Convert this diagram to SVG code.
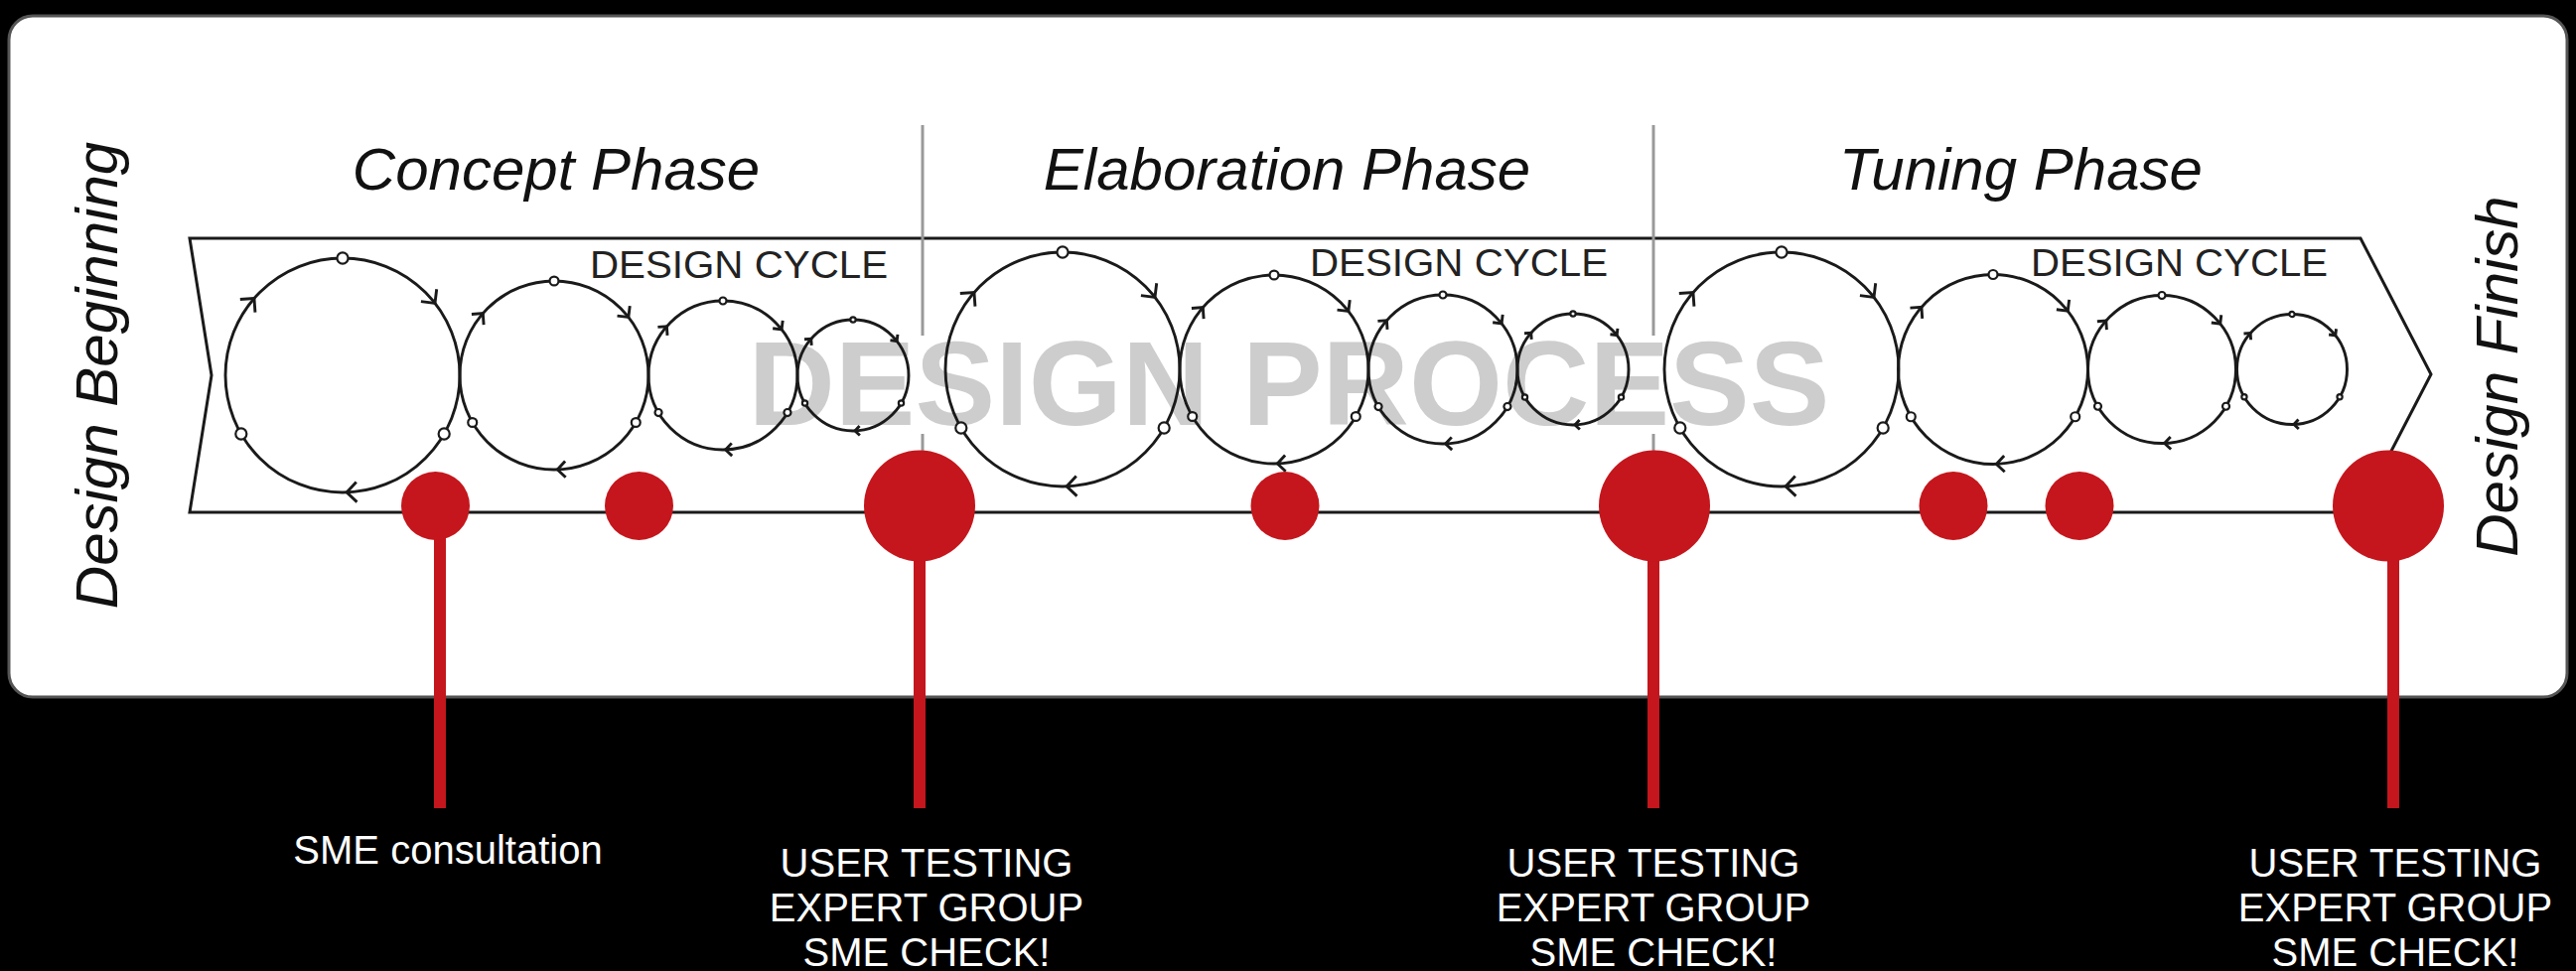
<svg xmlns="http://www.w3.org/2000/svg" xmlns:xlink="http://www.w3.org/1999/xlink" width="2594" height="978" viewBox="0 0 2594 978">
<style>
.ring{fill:none;stroke:#1a1a1a;stroke-width:2.9}
.nd{fill:#fff;stroke:#1a1a1a;stroke-width:2.2}
.chev{fill:none;stroke:#1a1a1a;stroke-width:2.9;stroke-linejoin:miter}
.ns{vector-effect:non-scaling-stroke}
.title{font-family:"Liberation Sans",Arial,sans-serif;font-style:italic;font-size:60px;fill:#111}
.cyc{font-family:"Liberation Sans",Arial,sans-serif;font-size:39px;fill:#222}
.lbl{font-family:"Liberation Sans",Arial,sans-serif;font-size:40px;fill:#fff;text-anchor:middle}
.red{fill:#c4161c}
.stem{stroke:#c4161c;stroke-width:12}
.sep{stroke:#999;stroke-width:3}
</style>
<defs>
<g id="cycle">
<circle class="ring ns" r="100"/>
<path class="chev ns" d="M80.26,-73.49 L78.8,-61.57 L66.88,-63.03"/>
<path class="chev ns" d="M12.27,108.13 L3.49,99.94 L11.68,91.16"/>
<path class="chev ns" d="M-87.45,-64.77 L-75.47,-65.61 L-74.63,-53.63"/>
<circle class="nd ns" cx="0" cy="-100" r="4.7"/>
<circle class="nd ns" cx="86.6" cy="50" r="4.7"/>
<circle class="nd ns" cx="-86.6" cy="50" r="4.7"/>
</g>
</defs>
<rect width="2594" height="978" fill="#000"/>
<rect id="panel" x="9" y="16" width="2576" height="686" rx="24" fill="#fff" stroke="#555" stroke-width="3"/>

<g id="banner">
<polygon points="191,240 2377,240 2448,377 2376,516 191,516 213,378" fill="#fff" stroke="#1a1a1a" stroke-width="3"/>
</g>
<g id="separators">
<line class="sep" x1="929" y1="126" x2="929" y2="338"/>
<line class="sep" x1="929" y1="437" x2="929" y2="500"/>
<line class="sep" x1="1665" y1="126" x2="1665" y2="338"/>
<line class="sep" x1="1665" y1="437" x2="1665" y2="500"/>
</g>
<text id="watermark" x="1298" y="428" text-anchor="middle" textLength="1089" lengthAdjust="spacingAndGlyphs" font-family="'Liberation Sans',Arial,sans-serif" font-weight="bold" font-size="120" fill="#cdcdcd">DESIGN PROCESS</text>

<g id="phase-concept">
<text class="title" x="560" y="191" text-anchor="middle">Concept Phase</text>
<text class="cyc" x="594" y="280" textLength="300" lengthAdjust="spacingAndGlyphs">DESIGN CYCLE</text>
<use xlink:href="#cycle" transform="translate(345,378) scale(1.18)"/>
<use xlink:href="#cycle" transform="translate(558,378) scale(0.95)"/>
<use xlink:href="#cycle" transform="translate(728,378) scale(0.75)"/>
<use xlink:href="#cycle" transform="translate(859,378) scale(0.56)"/>
</g>
<g id="phase-elaboration">
<text class="title" x="1296" y="191" text-anchor="middle">Elaboration Phase</text>
<text class="cyc" x="1319" y="278" textLength="300" lengthAdjust="spacingAndGlyphs">DESIGN CYCLE</text>
<use xlink:href="#cycle" transform="translate(1070,372) scale(1.18)"/>
<use xlink:href="#cycle" transform="translate(1283,372) scale(0.95)"/>
<use xlink:href="#cycle" transform="translate(1453,372) scale(0.75)"/>
<use xlink:href="#cycle" transform="translate(1584,372) scale(0.56)"/>
</g>
<g id="phase-tuning">
<text class="title" x="2035" y="191" text-anchor="middle">Tuning Phase</text>
<text class="cyc" x="2045" y="278" textLength="299" lengthAdjust="spacingAndGlyphs">DESIGN CYCLE</text>
<use xlink:href="#cycle" transform="translate(1794,372) scale(1.18)"/>
<use xlink:href="#cycle" transform="translate(2007,372) scale(0.955)"/>
<use xlink:href="#cycle" transform="translate(2177,372) scale(0.745)"/>
<use xlink:href="#cycle" transform="translate(2308,372) scale(0.555)"/>
</g>

<g id="connectors">
<line class="stem" x1="443" y1="510" x2="443" y2="814"/>
<line class="stem" x1="926" y1="510" x2="926" y2="814"/>
<line class="stem" x1="1665" y1="510" x2="1665" y2="814"/>
<line class="stem" x1="2410" y1="510" x2="2410" y2="814"/>
</g>

<g id="milestones">
<circle id="m1" class="red" cx="438.5" cy="509.5" r="34.5"/>
<circle id="m2" class="red" cx="643.5" cy="509.5" r="34.5"/>
<circle id="m3" class="red" cx="926" cy="509.5" r="56"/>
<circle id="m4" class="red" cx="1294" cy="509.5" r="34.5"/>
<circle id="m5" class="red" cx="1666" cy="509.5" r="56"/>
<circle id="m6" class="red" cx="1967" cy="509.5" r="34.5"/>
<circle id="m7" class="red" cx="2094" cy="509.5" r="34.5"/>
<circle id="m8" class="red" cx="2405" cy="509.5" r="56"/>
</g>

<g id="start-label">
<text class="title" transform="translate(118,378) rotate(-90)" text-anchor="middle">Design Beginning</text>
</g>
<g id="finish-label">
<text class="title" transform="translate(2535,379) rotate(-90)" text-anchor="middle">Design Finish</text>
</g>

<g id="label-sme">
<text class="lbl" x="451" y="870">SME consultation</text>
</g>
<g id="label-test1">
<text class="lbl" x="933" y="883">USER TESTING</text>
<text class="lbl" x="933" y="928">EXPERT GROUP</text>
<text class="lbl" x="933" y="973">SME CHECK!</text>
</g>
<g id="label-test2">
<text class="lbl" x="1665" y="883">USER TESTING</text>
<text class="lbl" x="1665" y="928">EXPERT GROUP</text>
<text class="lbl" x="1665" y="973">SME CHECK!</text>
</g>
<g id="label-test3">
<text class="lbl" x="2412" y="883">USER TESTING</text>
<text class="lbl" x="2412" y="928">EXPERT GROUP</text>
<text class="lbl" x="2412" y="973">SME CHECK!</text>
</g>
</svg>
